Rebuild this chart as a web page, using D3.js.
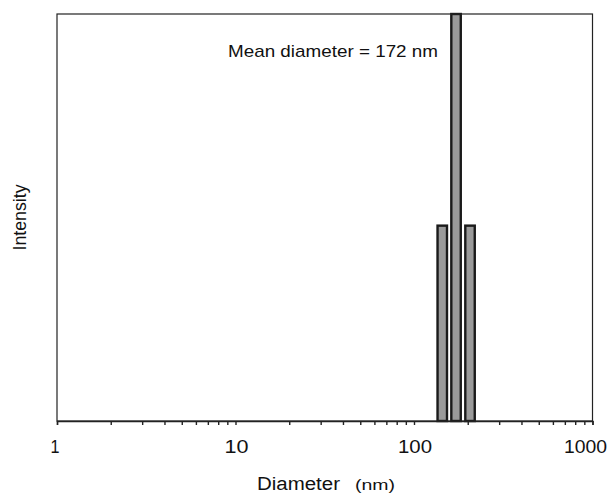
<!DOCTYPE html>
<html><head><meta charset="utf-8">
<script src="https://cdn.jsdelivr.net/npm/d3@7/dist/d3.min.js"></script>
<style>body{margin:0;background:#fff}svg{display:block}text{font-family:"Liberation Sans",Arial,sans-serif;fill:#111}</style>
</head><body>
<script>
const diameters = [144, 172, 206];
const intensities = [48, 100, 48];
const xTickLabels = [1, 10, 100, 1000];
const annotation = "Mean diameter = 172 nm";

const W = 609, H = 494;
const m = {left: 57, right: 16.5, top: 14, bottom: 73};
const svg = d3.select("body").append("svg").attr("width", W).attr("height", H);
const x = d3.scaleLog().domain([1, 1000]).range([m.left, W - m.right]);
const y = d3.scaleLinear().domain([0, 100]).range([H - m.bottom, m.top]);

const barHalf = 0.0265; // half width in decades
svg.append("g").selectAll("rect").data(diameters).join("rect")
  .attr("x", d => x(d * Math.pow(10, -barHalf)))
  .attr("width", d => x(d * Math.pow(10, barHalf)) - x(d * Math.pow(10, -barHalf)))
  .attr("y", (d, i) => y(intensities[i]))
  .attr("height", (d, i) => y(0) - y(intensities[i]))
  .attr("fill", "#9a9a9a").attr("stroke", "#1a1a1a").attr("stroke-width", 2.4);

// frame
svg.append("rect").attr("x", m.left).attr("y", m.top)
  .attr("width", W - m.left - m.right).attr("height", H - m.top - m.bottom)
  .attr("fill", "none").attr("stroke", "#222").attr("stroke-width", 1.2);

// x axis
const minor = [];
for (let p = 0; p < 3; p++) for (let k = 1; k < 10; k++) minor.push(k * Math.pow(10, p));
minor.push(1000);
const ax = svg.append("g").attr("transform", `translate(0,${H - m.bottom})`);
ax.call(d3.axisBottom(x).tickValues(minor).tickSize(4).tickFormat(""));
ax.select(".domain").attr("stroke", "#222").attr("stroke-width", 1.4);
ax.selectAll(".tick line").attr("stroke", "#222").attr("stroke-width", 1.4);

const labW = {1: 9, 10: 24, 100: 34, 1000: 43};
svg.selectAll(".xl").data(xTickLabels).join("text").attr("class", "xl")
  .attr("x", d => d === 1000 ? 607 - labW[d] : x(d) - labW[d] / 2 + (d === 1 ? -2 : 1))
  .attr("y", 453)
  .attr("font-size", 18).attr("textLength", d => labW[d]).attr("lengthAdjust", "spacingAndGlyphs")
  .text(d => d);

// x label
svg.append("text").attr("x", 257).attr("y", 490).attr("font-size", 18)
  .attr("textLength", 83).attr("lengthAdjust", "spacingAndGlyphs").text("Diameter");
svg.append("text").attr("x", 355).attr("y", 490).attr("font-size", 15)
  .attr("textLength", 40).attr("lengthAdjust", "spacingAndGlyphs").text("(nm)");

// y label
svg.append("text").attr("transform", `translate(26,${(m.top + H - m.bottom) / 2}) rotate(-90)`)
  .attr("text-anchor", "middle").attr("font-size", 17.5)
  .attr("textLength", 66).attr("lengthAdjust", "spacingAndGlyphs").text("Intensity");

// annotation
svg.append("text").attr("x", 228).attr("y", 57).attr("font-size", 17)
  .attr("textLength", 210).attr("lengthAdjust", "spacingAndGlyphs").text(annotation);
</script>
</body></html>
